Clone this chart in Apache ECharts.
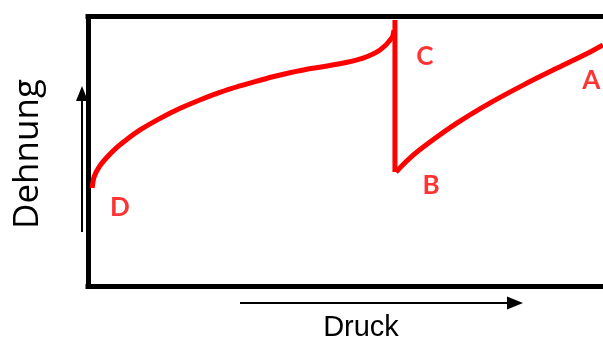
<!DOCTYPE html>
<html>
<head>
<meta charset="utf-8">
<script src="https://cdn.jsdelivr.net/npm/echarts@6/dist/echarts.min.js"></script>
<style>
  html, body { margin: 0; padding: 0; background: #fff; }
  #chart { width: 603px; height: 342px; }
</style>
</head>
<body>
<div id="chart"></div>
<script>
// Druck (x) / Dehnung (y), both on a 0..100 scale
var riseX = [0.8, 1.2, 2.2, 3.5, 5.4, 7.4, 10.1, 14.0, 17.9, 21.7, 25.6, 29.5, 32.6, 35.9, 39.2, 42.5, 48.9, 53.4, 56.7, 59.0, 59.4];
var riseY = [36.3, 40.5, 44.2, 47.3, 51.0, 54.1, 57.8, 62.1, 65.8, 68.9, 71.7, 74.1, 75.8, 77.5, 79.0, 80.3, 82.3, 84.4, 87.4, 91.9, 94.8];
var dropX = [59.6, 59.6];
var dropY = [98.5, 42.2];
var recoveryX = [59.8, 62.5, 66.4, 71.7, 78.1, 84.5, 91.1, 97.5, 100];
var recoveryY = [42.2, 47.4, 53.3, 60.4, 67.8, 74.4, 80.7, 86.7, 89.3];

var pointNames = ['D', 'C', 'B', 'A'];
var pointX = [6.2, 65.4, 66.6, 97.7];
var pointY = [28.9, 84.8, 37.0, 75.9];

function pairs(xs, ys) {
  return xs.map(function (x, i) { return [x, ys[i]]; });
}

var red = '#ff0000';
var frameH = { show: true, onZero: false, lineStyle: { color: '#000', width: 5, cap: 'square' } };
var frameV = { show: true, onZero: false, lineStyle: { color: '#000', width: 5, cap: 'butt' } };
var chart = echarts.init(document.getElementById('chart'));

var option = {
  animation: false,
  grid: { left: 88, right: 0, top: 16, bottom: 56 },
  xAxis: [
    {
      type: 'value', min: 0, max: 100, position: 'bottom',
      axisLine: frameH, axisTick: { show: false },
      axisLabel: { show: false }, splitLine: { show: false }
    },
    {
      type: 'value', min: 0, max: 100, position: 'top',
      axisLine: frameH, axisTick: { show: false },
      axisLabel: { show: false }, splitLine: { show: false }
    }
  ],
  yAxis: {
    type: 'value', min: 0, max: 100, position: 'left',
    axisLine: frameV, axisTick: { show: false },
    axisLabel: { show: false }, splitLine: { show: false }
  },
  series: [
    {
      type: 'line', data: pairs(riseX, riseY), smooth: 0.3, showSymbol: false,
      lineStyle: { color: red, width: 5 }, z: 3
    },
    {
      type: 'line', data: pairs(dropX, dropY), showSymbol: false,
      lineStyle: { color: red, width: 5 }, z: 3
    },
    {
      type: 'line', data: pairs(recoveryX, recoveryY), smooth: 0.4, showSymbol: false,
      lineStyle: { color: red, width: 5 }, z: 3
    },
    {
      type: 'scatter', symbolSize: 1, itemStyle: { color: 'transparent' },
      data: pointNames.map(function (n, i) { return { name: n, value: [pointX[i], pointY[i]] }; }),
      label: {
        show: true, position: 'inside', formatter: '{b}',
        color: '#ff0000', fontFamily: 'Lato', fontWeight: 'bold', fontSize: 26
      }
    }
  ],
  graphic: [
    // vertical arrow
    { type: 'line', shape: { x1: 82, y1: 232, x2: 82, y2: 98 }, style: { stroke: '#000', lineWidth: 2 } },
    { type: 'polygon', shape: { points: [[82, 86], [76, 101], [88, 101]] }, style: { fill: '#000' } },
    // horizontal arrow
    { type: 'line', shape: { x1: 240, y1: 303, x2: 510, y2: 303 }, style: { stroke: '#000', lineWidth: 2 } },
    { type: 'polygon', shape: { points: [[523, 303], [507, 296.5], [507, 309.5]] }, style: { fill: '#000' } },
    {
      type: 'text', x: 28, y: 154, rotation: Math.PI / 2,
      style: { text: 'Dehnung', fontFamily: 'Open Sans', fontSize: 35, fill: '#000', align: 'center', verticalAlign: 'middle' }
    },
    {
      type: 'text', x: 361, y: 328,
      style: { text: 'Druck', fontFamily: 'Liberation Sans', fontSize: 29, fill: '#000', align: 'center', verticalAlign: 'middle' }
    }
  ]
};
chart.setOption(option);
</script>
</body>
</html>
